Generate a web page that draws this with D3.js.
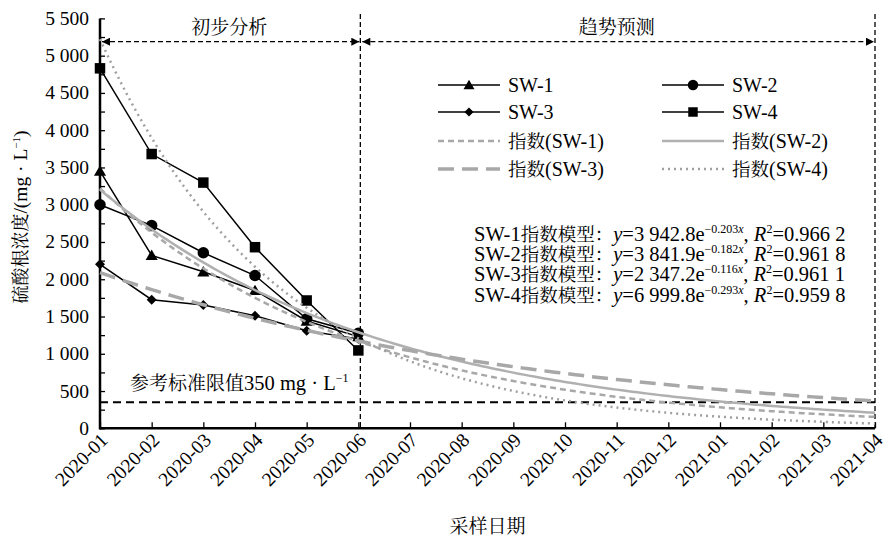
<!DOCTYPE html>
<html>
<head>
<meta charset="utf-8">
<script src="https://cdn.jsdelivr.net/npm/d3@7"></script>
</head>
<body style="margin:0;background:#fff">
<div id="chart"></div>
<script>
// months on the x axis, first six are measured
const months = ["2020-01", "2020-02", "2020-03", "2020-04", "2020-05", "2020-06", "2020-07", "2020-08",
  "2020-09", "2020-10", "2020-11", "2020-12", "2021-01", "2021-02", "2021-03", "2021-04"];
const obsMonths = months.slice(0, 6);
const seriesNames = ["SW-1", "SW-2", "SW-3", "SW-4"];
const sw1 = [3450, 2320, 2100, 1850, 1440, 1230];
const sw2 = [3000, 2720, 2355, 2050, 1470, 1275];
const sw3 = [2200, 1725, 1655, 1510, 1310, 1200];
const sw4 = [4830, 3680, 3297, 2430, 1715, 1045];
// exponential models printed on the chart: y = a * e^(-b x)
const fitA = [3942.8, 3841.9, 2347.2, 6999.8];
const fitB = [0.203, 0.182, 0.116, 0.293];
const fitAText = ["3 942.8", "3 841.9", "2 347.2", "6 999.8"];
const fitR2Text = ["0.966 2", "0.961 8", "0.961 1", "0.959 8"];
const yTicks = [0, 500, 1000, 1500, 2000, 2500, 3000, 3500, 4000, 4500, 5000, 5500];
const limitValue = 350;

const LATIN = '"Liberation Serif"';
const CJK = '"Noto Serif CJK SC"';
const cjkRe = /[\u3000-\u9fff\uff00-\uffef]/;
const width = 889, height = 540;
const x0 = 100, x1 = 875, yBottom = 428.3, yTop = 18.4;

const svg = d3.select("#chart").append("svg")
  .attr("width", width).attr("height", height);

const x = d3.scalePoint().domain(months).range([x0, x1]);
const xt = d3.scaleLinear().domain([1, months.length]).range([x0, x1]);
const y = d3.scaleLinear().domain([0, 5500]).range([yBottom, yTop]);

const fmt = v => d3.format(",")(v).replace(",", " ");

// split a string into latin / CJK runs so the two can get their own size
function rich(sel, str, latin, cjk) {
  str.split(/([\u3000-\u9fff\uff00-\uffef]+)/).filter(s => s).forEach(s => {
    sel.append("tspan").style("font-size", (cjkRe.test(s) ? cjk : latin) + "px").text(s);
  });
  return sel;
}

// y axis
const yAxis = svg.append("g").attr("transform", `translate(${x0},0)`)
  .call(d3.axisRight(y).tickValues(d3.range(0, 5501, 250)).tickSize(5).tickFormat(""));
yAxis.select(".domain").remove();
yAxis.selectAll("line").attr("stroke-width", 1.3);
svg.selectAll(".ylab").data(yTicks).enter().append("text")
  .attr("x", x0 - 11).attr("y", d => y(d) + 6.5)
  .attr("text-anchor", "end").style("font-size", "19.5px").text(fmt);

// x axis
const xAxis = svg.append("g").attr("transform", `translate(0,${yBottom})`)
  .call(d3.axisTop(x).tickSize(6).tickFormat(""));
xAxis.select(".domain").remove();
xAxis.selectAll("line").attr("stroke-width", 1.3);
svg.selectAll(".xlab").data(months).enter().append("text")
  .attr("text-anchor", "end")
  .attr("transform", d => `translate(${x(d) + 9},${yBottom + 13}) rotate(-45)`)
  .style("font-size", "19.5px").text(d => d);

svg.append("line").attr("x1", x0).attr("x2", x0).attr("y1", yTop).attr("y2", yBottom + 1)
  .attr("stroke", "#000").attr("stroke-width", 2.5);
svg.append("line").attr("x1", x0 - 1).attr("x2", x1).attr("y1", yBottom).attr("y2", yBottom)
  .attr("stroke", "#000").attr("stroke-width", 2.5);

// phase separators
const xSplit = x("2020-06");
[xSplit + 2, x1].forEach(xx => {
  svg.append("line").attr("x1", xx).attr("x2", xx).attr("y1", 14).attr("y2", yBottom)
    .attr("stroke", "#000").attr("stroke-width", 1.3).attr("stroke-dasharray", "5,3");
});

const defs = svg.append("defs");
defs.append("marker").attr("id", "arr").attr("viewBox", "0 0 10 10")
  .attr("refX", 10).attr("refY", 5).attr("markerWidth", 11).attr("markerHeight", 8)
  .attr("markerUnits", "userSpaceOnUse").attr("orient", "auto-start-reverse")
  .append("path").attr("d", "M0,0L10,5L0,10Z").attr("fill", "#000");

const yArrow = 41.7;
[[x0 + 2, xSplit + 1], [xSplit + 4, x1 - 1]].forEach(([a, b]) => {
  svg.append("line").attr("x1", a).attr("x2", b).attr("y1", yArrow).attr("y2", yArrow)
    .attr("stroke", "#000").attr("stroke-width", 1.3).attr("stroke-dasharray", "5,3")
    .attr("marker-start", "url(#arr)").attr("marker-end", "url(#arr)");
});
svg.append("text").attr("x", (x0 + xSplit) / 2).attr("y", 34).attr("text-anchor", "middle")
  .style("font-size", "19px").text("初步分析");
svg.append("text").attr("x", (xSplit + x1) / 2).attr("y", 34).attr("text-anchor", "middle")
  .style("font-size", "19px").text("趋势预测");

// limit line
svg.append("line").attr("x1", x0).attr("x2", x1).attr("y1", y(limitValue)).attr("y2", y(limitValue))
  .attr("stroke", "#000").attr("stroke-width", 2).attr("stroke-dasharray", "8,5");
const lim = svg.append("text").attr("x", 130).attr("y", 390);
rich(lim, "参考标准限值350 mg · L", 20.5, 19);
lim.append("tspan").attr("dy", -8).style("font-size", "12px").text("−1");

// markers
function marker(type, s) {
  const h = s / 2;
  if (type === 0) return `M0,${-h * 1.05}L${h * 1.1},${h * 0.85}L${-h * 1.1},${h * 0.85}Z`;
  if (type === 1) return d3.symbol(d3.symbolCircle, Math.PI * h * h * 1.1)();
  if (type === 2) return `M0,${-h}L${h},0L0,${h}L${-h},0Z`;
  return `M${-h},${-h}H${h}V${h}H${-h}Z`;
}
const markerSize = [11, 11, 10, 10.5];
const obs = [sw1, sw2, sw3, sw4];

const line = d3.line().x((d, i) => x(obsMonths[i])).y(d => y(d));
obs.forEach((vals, k) => {
  svg.append("path").attr("d", line(vals)).attr("fill", "none")
    .attr("stroke", "#000").attr("stroke-width", 1.5);
  svg.selectAll(".m" + k).data(vals).enter().append("path")
    .attr("transform", (d, i) => `translate(${x(obsMonths[i])},${y(d)})`)
    .attr("d", marker(k, markerSize[k])).attr("fill", "#000");
});

// trend curves
const fitStyle = [
  { color: "#a8a8a8", w: 2.5, dash: "6,4" },
  { color: "#b0b0b0", w: 2.5, dash: null },
  { color: "#a8a8a8", w: 3.5, dash: "16,8" },
  { color: "#a0a0a0", w: 2.5, dash: "2,4" }
];
const tSteps = d3.range(1, months.length + 0.001, 0.1);
const fitLine = d3.line().x(d => xt(d[0])).y(d => y(d[1]));
fitA.forEach((a, k) => {
  const pts = tSteps.map(t => [t, a * Math.exp(-fitB[k] * t)]);
  const p = svg.append("path").attr("d", fitLine(pts)).attr("fill", "none")
    .attr("stroke", fitStyle[k].color).attr("stroke-width", fitStyle[k].w);
  if (fitStyle[k].dash) p.attr("stroke-dasharray", fitStyle[k].dash);
});

// legend
const legCols = [438, 662], legRows = [85, 112, 141, 169], legLen = 62;
const legItems = [
  ...seriesNames.map((n, k) => ({ label: n, k, fit: false })),
  ...seriesNames.map((n, k) => ({ label: `指数(${n})`, k, fit: true }))
];
legItems.forEach((it, i) => {
  const cx = legCols[i % 2], cy = legRows[Math.floor(i / 2)];
  const g = svg.append("g");
  if (!it.fit) {
    g.append("line").attr("x1", cx).attr("x2", cx + legLen).attr("y1", cy).attr("y2", cy)
      .attr("stroke", "#000").attr("stroke-width", 1.5);
    g.append("path").attr("transform", `translate(${cx + legLen / 2},${cy})`)
      .attr("d", marker(it.k, markerSize[it.k] - 1)).attr("fill", "#000");
  } else {
    const st = fitStyle[it.k];
    const l = g.append("line").attr("x1", cx).attr("x2", cx + legLen).attr("y1", cy).attr("y2", cy)
      .attr("stroke", st.color).attr("stroke-width", st.w);
    if (st.dash) l.attr("stroke-dasharray", st.dash);
  }
  rich(g.append("text").attr("x", cx + legLen + 8).attr("y", cy + 6.5), it.label, 20, 18.5);
});

// model equations
const eqBase = [241, 261, 281, 301.5];
seriesNames.forEach((n, k) => {
  const t = svg.append("text").attr("x", 474).attr("y", eqBase[k]).style("font-size", "20.5px");
  rich(t, `${n}指数模型：`, 20.5, 18.5);
  t.append("tspan").style("font-style", "italic").text("y");
  t.append("tspan").text(`=${fitAText[k]}e`);
  t.append("tspan").attr("dy", -8).style("font-size", "12px").text(`−${fitB[k].toFixed(3)}`);
  t.append("tspan").style("font-size", "12px").style("font-style", "italic").text("x");
  t.append("tspan").attr("dy", 8).text(", ");
  t.append("tspan").style("font-style", "italic").text("R");
  t.append("tspan").attr("dy", -8).style("font-size", "12px").text("2");
  t.append("tspan").attr("dy", 8).text(`=${fitR2Text[k]}`);
});

// axis titles
const yt = svg.append("text").attr("transform", `translate(27,217) rotate(-90)`)
  .attr("text-anchor", "middle");
rich(yt, "硫酸根浓度/(mg · L", 19.5, 18);
yt.append("tspan").attr("dy", -7).style("font-size", "11px").text("−1");
yt.append("tspan").attr("dy", 7).style("font-size", "19.5px").text(")");
svg.append("text").attr("x", (x0 + x1) / 2).attr("y", 533).attr("text-anchor", "middle")
  .style("font-size", "19px").text("采样日期");

// one family per run: serif latin, song-style CJK
svg.selectAll("text").each(function () {
  const el = d3.select(this);
  if (el.selectAll("tspan").empty()) {
    el.style("font-family", cjkRe.test(el.text()) ? CJK : LATIN);
  } else {
    el.style("font-family", LATIN);
    el.selectAll("tspan").each(function () {
      const ts = d3.select(this);
      ts.style("font-family", cjkRe.test(ts.text()) ? CJK : LATIN);
    });
  }
}).attr("fill", "#000");
</script>
</body>
</html>
